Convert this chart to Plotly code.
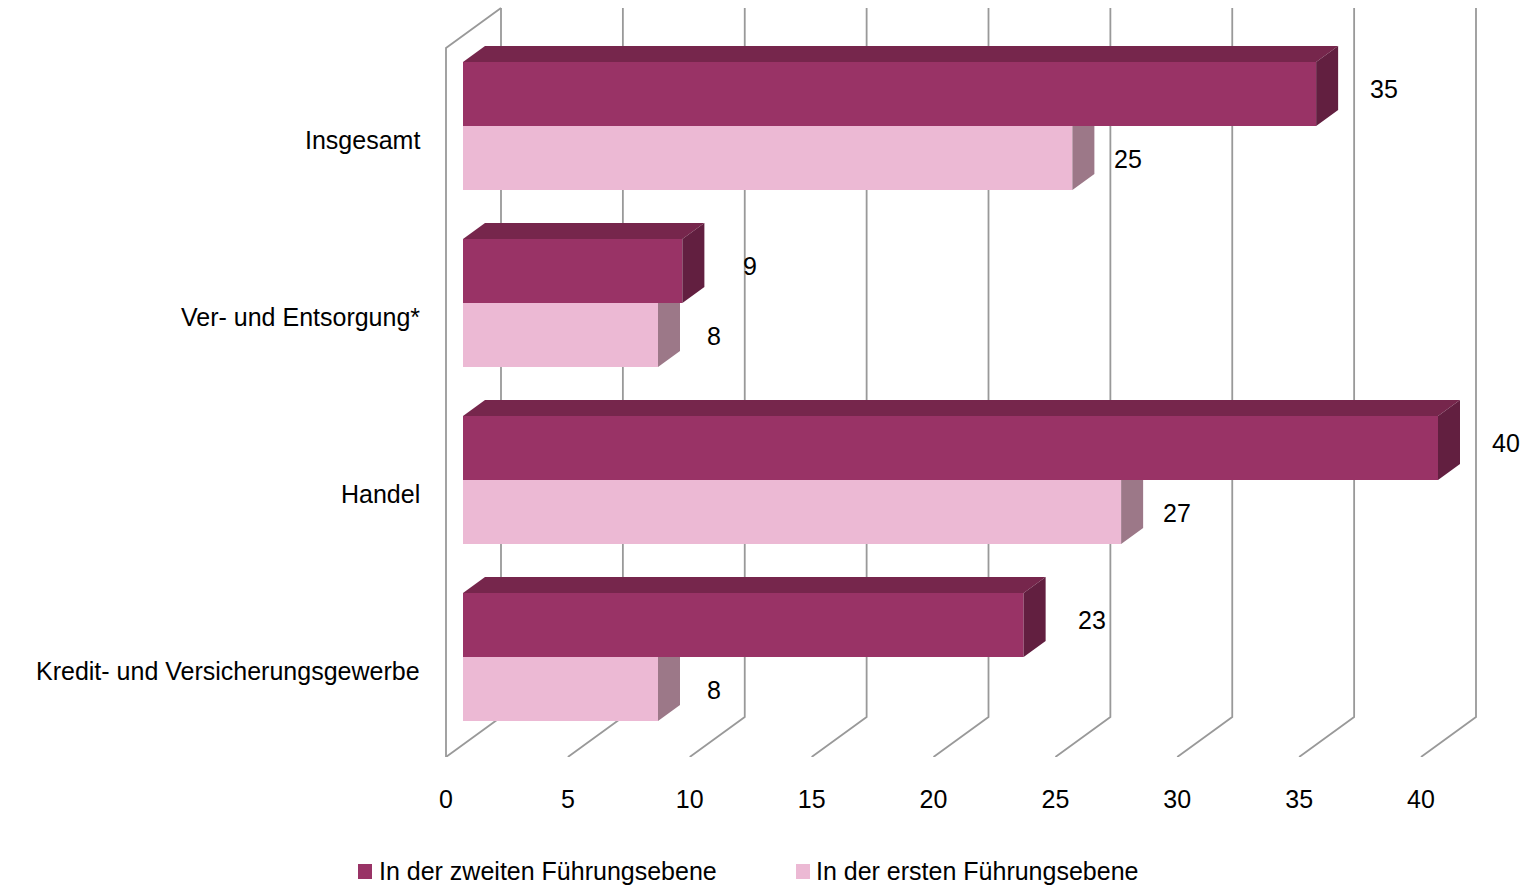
import plotly.graph_objects as go

# ---- data -------------------------------------------------------------
categories = [
    "Insgesamt",
    "Ver- und Entsorgung*",
    "Handel",
    "Kredit- und Versicherungsgewerbe",
]
zweite_ebene = [35, 9, 40, 23]   # In der zweiten Führungsebene
erste_ebene = [25, 8, 27, 8]     # In der ersten Führungsebene
series_names = ["In der zweiten Führungsebene", "In der ersten Führungsebene"]
x_ticks = [0, 5, 10, 15, 20, 25, 30, 35, 40]

# ---- layout geometry (pixels) -----------------------------------------
W, H = 1537, 889
FLOOR = 757          # front edge of the floor = bottom of the plot area
WALL_TOP = 48        # top of the front edge of the side wall
ORIGIN = 446         # pixel position of value 0 on the front edge
UNIT = 24.375        # pixels per value unit
DEPTH_PX, DEPTH_DY = 55, -40   # full depth of the 3D box
BAR_OFF_PX = 17      # bars start this far behind the front edge
BAR_DEPTH_PX, BAR_DY = 22, -16
ROW0, ROW_STEP, BAR_H = 126, 177, 64

FONT = "Liberation Sans, Arial, sans-serif"

COL_DARK = dict(front="#993366", top="#76264c", side="#621f40")
COL_LIGHT = dict(front="#ecb9d4", top="#c99bb4", side="#9c7888")
GRID = "#999999"


def ux(px):
    """Convert a horizontal pixel distance into value units."""
    return px / UNIT


DX = ux(DEPTH_PX)
BX0 = ux(BAR_OFF_PX)
BDX = ux(BAR_DEPTH_PX)

fig = go.Figure()

# ---- 3D frame: side wall, back wall verticals, floor diagonals --------
gx, gy = [], []
for t in x_ticks:
    gx += [t, t + DX, t + DX, None]
    gy += [FLOOR, FLOOR + DEPTH_DY, WALL_TOP + DEPTH_DY, None]
gx += [0, 0, DX, None]
gy += [FLOOR, WALL_TOP, WALL_TOP + DEPTH_DY, None]
fig.add_trace(go.Scatter(x=gx, y=gy, mode="lines",
                         line=dict(color=GRID, width=1.8),
                         hoverinfo="skip", showlegend=False))


def boxes(values, offset):
    """Return polygons (front, top, side) for one series of 3D bars."""
    faces = {"front": ([], []), "top": ([], []), "side": ([], [])}
    for i, v in enumerate(values):
        top = ROW0 + i * ROW_STEP + offset
        bot = top + BAR_H
        x0, x1 = BX0, v + BX0
        fx, fy = faces["front"]
        fx += [x0, x1, x1, x0, x0, None]
        fy += [top, top, bot, bot, top, None]
        tx, ty = faces["top"]
        tx += [x0, x0 + BDX, x1 + BDX, x1, x0, None]
        ty += [top, top + BAR_DY, top + BAR_DY, top, top, None]
        sx, sy = faces["side"]
        sx += [x1, x1 + BDX, x1 + BDX, x1, x1, None]
        sy += [top, top + BAR_DY, bot + BAR_DY, bot, top, None]
    return faces


def add_series(values, offset, colors):
    faces = boxes(values, offset)
    for key in ("top", "front", "side"):
        xs, ys = faces[key]
        fig.add_trace(go.Scatter(
            x=xs, y=ys, mode="lines", fill="toself",
            fillcolor=colors[key], line=dict(width=0, color=colors[key]),
            hoverinfo="skip", showlegend=False))


# lower (light) bars first, the dark bars sit on top of them
add_series(erste_ebene, 0, COL_LIGHT)
add_series(zweite_ebene, -BAR_H, COL_DARK)

annotations = []

# value labels
for i, v in enumerate(zweite_ebene):
    annotations.append(dict(
        x=v + ux(BAR_OFF_PX + 68), y=ROW0 + i * ROW_STEP - BAR_H / 2 - 5,
        text=str(v), showarrow=False, xanchor="center", yanchor="middle",
        font=dict(family=FONT, size=25, color="#000000")))
for i, v in enumerate(erste_ebene):
    annotations.append(dict(
        x=v + ux(BAR_OFF_PX + 56), y=ROW0 + i * ROW_STEP + BAR_H / 2 + 1,
        text=str(v), showarrow=False, xanchor="center", yanchor="middle",
        font=dict(family=FONT, size=25, color="#000000")))

# category labels
for i, c in enumerate(categories):
    annotations.append(dict(
        x=ux(422 - ORIGIN), y=ROW0 + i * ROW_STEP + 14,
        text=c, showarrow=False, xanchor="right", yanchor="middle",
        font=dict(family=FONT, size=25, color="#000000")))

# legend
LEG_Y = 871
legend_items = [(358, 377, COL_DARK["front"]), (796, 814, COL_LIGHT["front"])]
shapes = []
for (sq_x, tx, col), name in zip(legend_items, series_names):
    shapes.append(dict(type="rect", xref="paper", yref="paper",
                       x0=sq_x / W, x1=(sq_x + 14) / W,
                       y0=(FLOOR - (LEG_Y + 8)) / FLOOR,
                       y1=(FLOOR - (LEG_Y - 7)) / FLOOR,
                       fillcolor=col, line=dict(width=0)))
    annotations.append(dict(
        x=tx / W, y=(FLOOR - LEG_Y) / FLOOR, xref="paper", yref="paper",
        text=name, showarrow=False, xanchor="left", yanchor="middle",
        font=dict(family=FONT, size=25, color="#000000")))

fig.update_layout(
    width=W, height=H,
    margin=dict(l=0, r=0, t=0, b=H - FLOOR, pad=0),
    paper_bgcolor="white", plot_bgcolor="white",
    showlegend=False,
    xaxis=dict(range=[-ORIGIN / UNIT, (W - ORIGIN) / UNIT],
               tickvals=x_ticks, ticktext=[str(t) for t in x_ticks],
               showgrid=False, zeroline=False, showline=False,
               ticks="", ticklabelstandoff=25,
               tickfont=dict(family=FONT, size=25, color="#000000"),
               fixedrange=True),
    yaxis=dict(range=[FLOOR, 0], visible=False, fixedrange=True),
    annotations=annotations,
    shapes=shapes,
)

fig.write_html("out.html")
